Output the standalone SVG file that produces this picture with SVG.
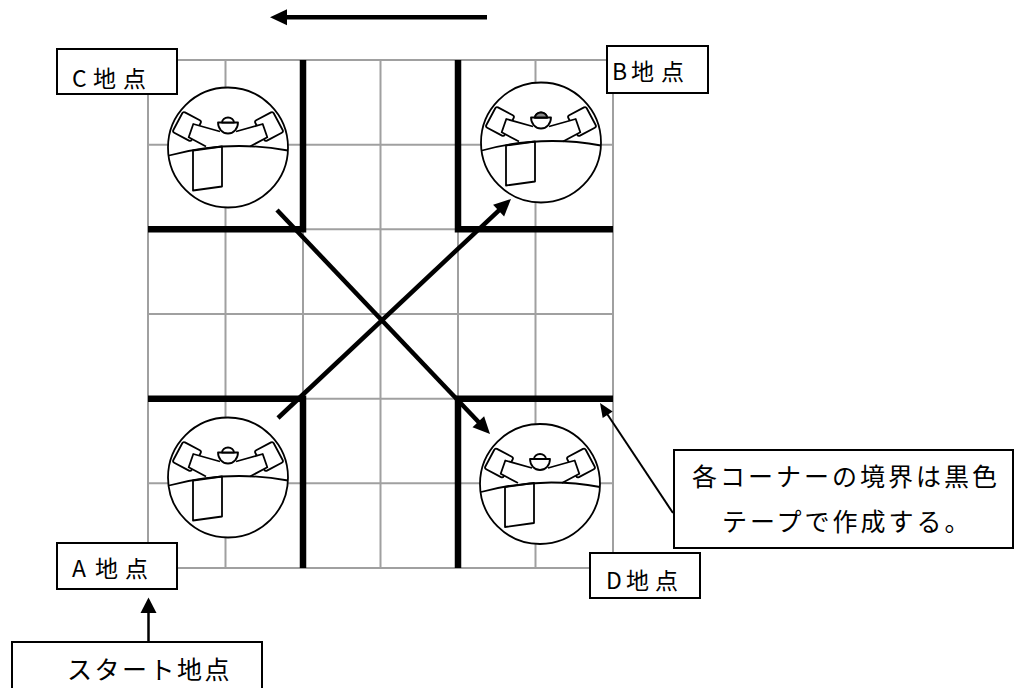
<svg xmlns="http://www.w3.org/2000/svg" xmlns:xlink="http://www.w3.org/1999/xlink" width="1020" height="688" viewBox="0 0 1020 688">
  <style>
    .grid line { stroke: #a0a0a0; stroke-width: 2; }
    .wall { stroke: #000; stroke-width: 6.5; fill: none; stroke-linecap: butt; }
    .fig { stroke: #000; stroke-width: 1.8; fill: #fff; stroke-linejoin: round; }
    .fig-open { stroke: #000; stroke-width: 1.8; fill: none; stroke-linejoin: round; }
    .box { fill: #fff; stroke: #000; stroke-width: 2; }
    .lbl { font-family: "Noto Sans CJK JP", "Noto Sans CJK SC", sans-serif; font-size: 23px; fill: #000; }
    .big { font-family: "Noto Sans CJK JP", "Noto Sans CJK SC", sans-serif; font-size: 25px; fill: #000; }
    .thick { stroke: #000; stroke-width: 4.5; fill: none; }
    .thin { stroke: #000; stroke-width: 2.5; fill: none; }
    .head { fill: #000; stroke: none; }
  </style>
  <defs>
    <!-- seated figure seen from above, drawn round its own centre -->
    <g id="figure">
      <circle class="fig" r="60"/>
      <rect class="fig" x="-10.4" y="-11.5" width="20.8" height="23" rx="2" transform="translate(-41,-21) rotate(28)"/>
      <rect class="fig" x="-10.4" y="-11.5" width="20.8" height="23" rx="2" transform="translate(41,-21) rotate(-28)"/>
      <polygon fill="#fff" stroke="none" points="-8,-16 -34.7,-23.5 -39.3,-10.2 -22,-1 22,-1 39.3,-10.2 34.7,-23.5 8,-16"/>
      <path class="fig-open" d="M-8,-16 L-34.7,-23.5 L-39.3,-10.2 L-22,-1"/>
      <path class="fig-open" d="M8,-16 L34.7,-23.5 L39.3,-10.2 L22,-1"/>
      <path class="fig" d="M-10,-25 A10 11 0 0 0 10,-25 Z"/>
      <path class="fig" d="M-6,-25 A6 5 0 0 1 6,-25 Z"/>
      <path class="fig-open" d="M-59,8 Q0,-8 60,3"/>
      <polygon class="fig-open" points="-35,3 -35,43 -6,39 -6,-1"/>
    </g>
  </defs>

  <rect width="1020" height="688" fill="#fff"/>

  <!-- floor grid -->
  <g id="grid" class="grid">
    <line x1="148" y1="60" x2="148" y2="568"/>
    <line x1="225.5" y1="60" x2="225.5" y2="568"/>
    <line x1="303" y1="60" x2="303" y2="568"/>
    <line x1="380.5" y1="60" x2="380.5" y2="568"/>
    <line x1="458" y1="60" x2="458" y2="568"/>
    <line x1="535.5" y1="60" x2="535.5" y2="568"/>
    <line x1="613" y1="60" x2="613" y2="568"/>
    <line x1="148" y1="60" x2="613" y2="60"/>
    <line x1="148" y1="144.7" x2="613" y2="144.7"/>
    <line x1="148" y1="229.3" x2="613" y2="229.3"/>
    <line x1="148" y1="314" x2="613" y2="314"/>
    <line x1="148" y1="398.7" x2="613" y2="398.7"/>
    <line x1="148" y1="483.3" x2="613" y2="483.3"/>
    <line x1="148" y1="568" x2="613" y2="568"/>
  </g>

  <!-- black tape corner boundaries -->
  <g id="walls">
    <path class="wall" d="M303,60 V229.3 H148"/>
    <path class="wall" d="M458,60 V229.3 H613"/>
    <path class="wall" d="M148,398.7 H303 V568"/>
    <path class="wall" d="M613,398.7 H458 V568"/>
  </g>

  <!-- corner figures -->
  <g id="figure-c"><use xlink:href="#figure" href="#figure" x="228" y="147.5"/></g>
  <g id="figure-b">
    <use xlink:href="#figure" href="#figure" x="541" y="142.5"/>
    <path d="M535,117.5 A6 5 0 0 1 547,117.5 Z" fill="#888" stroke="#000" stroke-width="1.8"/>
  </g>
  <g id="figure-a"><use xlink:href="#figure" href="#figure" x="228" y="477.5"/></g>
  <g id="figure-d"><use xlink:href="#figure" href="#figure" x="540" y="484"/></g>

  <!-- connectors -->
  <g id="connectors">
    <!-- direction of travel -->
    <line class="thick" x1="487" y1="17.3" x2="285" y2="17.3"/>
    <polygon class="head" points="270,17.3 287,9.3 287,25.3"/>
    <!-- C to D -->
    <line class="thick" x1="277" y1="210" x2="479.5" y2="423"/>
    <polygon class="head" points="490,434 472.5,427.2 484.1,416.2"/>
    <!-- A to B -->
    <line class="thick" x1="278" y1="418" x2="499.5" y2="209.8"/>
    <polygon class="head" points="511,199 504.1,216.4 493.1,204.8"/>
    <!-- start marker -->
    <line class="thin" x1="148.5" y1="642" x2="148.5" y2="611"/>
    <polygon class="head" points="148.5,597.5 140.5,613 156.5,613"/>
    <!-- callout pointer -->
    <line stroke="#000" stroke-width="2" x1="673" y1="513" x2="606.5" y2="413"/>
    <polygon class="head" points="600,403 612.7,411.4 602.7,418"/>
  </g>

  <!-- point labels -->
  <g id="label-c">
    <rect class="box" x="57" y="49" width="120" height="45"/>
    <text class="lbl" y="86.5"><tspan x="72">C </tspan><tspan x="93" letter-spacing="7">地点</tspan></text>
  </g>
  <g id="label-b">
    <rect class="box" x="607" y="46" width="101" height="47"/>
    <text class="lbl" y="80"><tspan x="612">B </tspan><tspan x="631" letter-spacing="7">地点</tspan></text>
  </g>
  <g id="label-a">
    <rect class="box" x="57" y="543" width="120" height="46"/>
    <text class="lbl" y="576.5"><tspan x="72">A </tspan><tspan x="95" letter-spacing="7">地点</tspan></text>
  </g>
  <g id="label-d">
    <rect class="box" x="590" y="553" width="110" height="45"/>
    <text class="lbl" y="589"><tspan x="606">D </tspan><tspan x="626" letter-spacing="6">地点</tspan></text>
  </g>
  <g id="label-start">
    <rect class="box" x="12" y="642" width="250" height="60"/>
    <text class="big" x="67" y="678.5" letter-spacing="2.5">スタート地点</text>
  </g>
  <g id="note">
    <rect class="box" x="674" y="450" width="339" height="98"/>
    <text class="big" x="692" y="485.5" letter-spacing="3">各コーナーの境界は黒色</text>
    <text class="big" x="722" y="530.5" letter-spacing="3">テープで作成する。</text>
  </g>
</svg>
